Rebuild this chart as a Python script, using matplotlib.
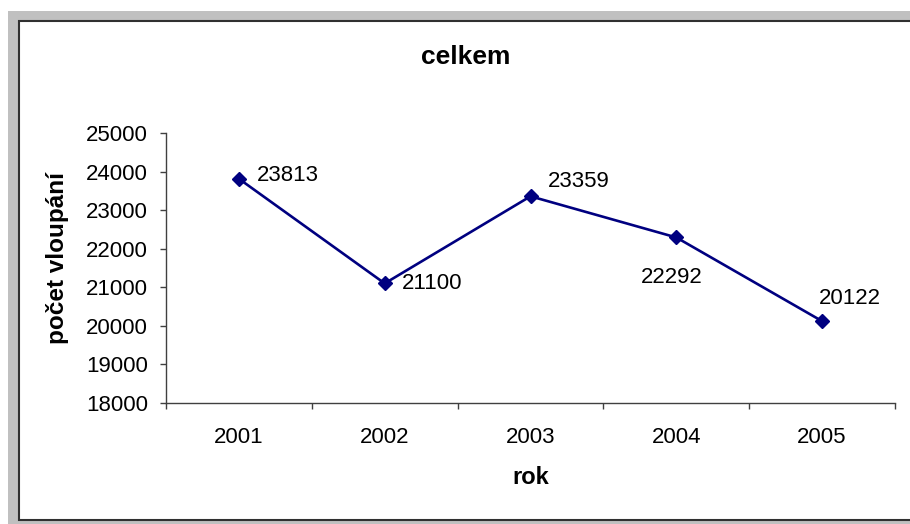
import matplotlib
matplotlib.use('Agg')
import matplotlib.pyplot as plt
from matplotlib.patches import Rectangle

plt.rcParams['font.family'] = ['Liberation Sans', 'DejaVu Sans']

years = ['2001', '2002', '2003', '2004', '2005']
counts = [23813, 21100, 23359, 22292, 20122]
y_ticks = [18000, 19000, 20000, 21000, 22000, 23000, 24000, 25000]

W, H = 910, 524
fig = plt.figure(figsize=(W / 100, H / 100), dpi=100)

def fx(px):
    return px / W

def fy(py):
    return 1 - py / H

# gray frame and white chart area with dark border
fig.add_artist(Rectangle((fx(8), 0), 1.2, fy(11), transform=fig.transFigure,
                         facecolor='#c0c0c0', edgecolor='none', zorder=-2))
fig.add_artist(Rectangle((fx(18.5), fy(519.5)), 1.2, fy(21.5) - fy(519.5),
                         transform=fig.transFigure, facecolor='white',
                         edgecolor='#303030', linewidth=1.5, zorder=-1))

ax = fig.add_axes([fx(166), fy(403), fx(895) - fx(166), fy(133) - fy(403)])
ax.set_zorder(2)
ax.set_facecolor('none')

x = list(range(len(years)))
ax.plot(x, counts, color='#000080', linewidth=1.9, marker='D', markersize=7,
        markerfacecolor='#000080', markeredgecolor='#000080', zorder=3)

# label offsets in pixels (dx, dy up) and alignment
offsets = [(18, 3, 'left'), (17, 0, 'left'), (17, 15, 'left'),
           (-5, -40, 'center'), (-3, 23, 'left')]
for xi, v, (dx, dy, ha) in zip(x, counts, offsets):
    ax.annotate(str(v), (xi, v), xytext=(dx * 0.72, dy * 0.72),
                textcoords='offset points', ha=ha, va='center', fontsize=16)

ax.set_xlim(-0.5, len(years) - 0.5)
ax.set_ylim(18000, 25000)
ax.set_yticks(y_ticks)
ax.set_yticklabels([str(t) for t in y_ticks])
ax.set_xticks(x)
ax.set_xticklabels(years)
ax.set_xticks([i - 0.5 for i in range(len(years) + 1)], minor=True)

for s in ['top', 'right']:
    ax.spines[s].set_visible(False)
for s in ['left', 'bottom']:
    ax.spines[s].set_color('#404040')
    ax.spines[s].set_linewidth(1.0)

ax.tick_params(axis='y', direction='out', length=4, width=1, color='#404040',
               labelsize=16, pad=9)
ax.tick_params(axis='x', which='major', length=0, labelsize=16, pad=17)
ax.tick_params(axis='x', which='minor', direction='out', length=4.5, width=1,
               color='#404040')

fig.text(fx(466), fy(57), 'celkem', ha='center', va='center',
         fontsize=19, fontweight='bold')
fig.text(fx(531), fy(477), 'rok', ha='center', va='center',
         fontsize=17, fontweight='bold')
fig.text(fx(58), fy(258), 'počet vloupání', ha='center', va='center',
         rotation=90, fontsize=17.5, fontweight='bold')

fig.savefig('out.png', dpi=100)
